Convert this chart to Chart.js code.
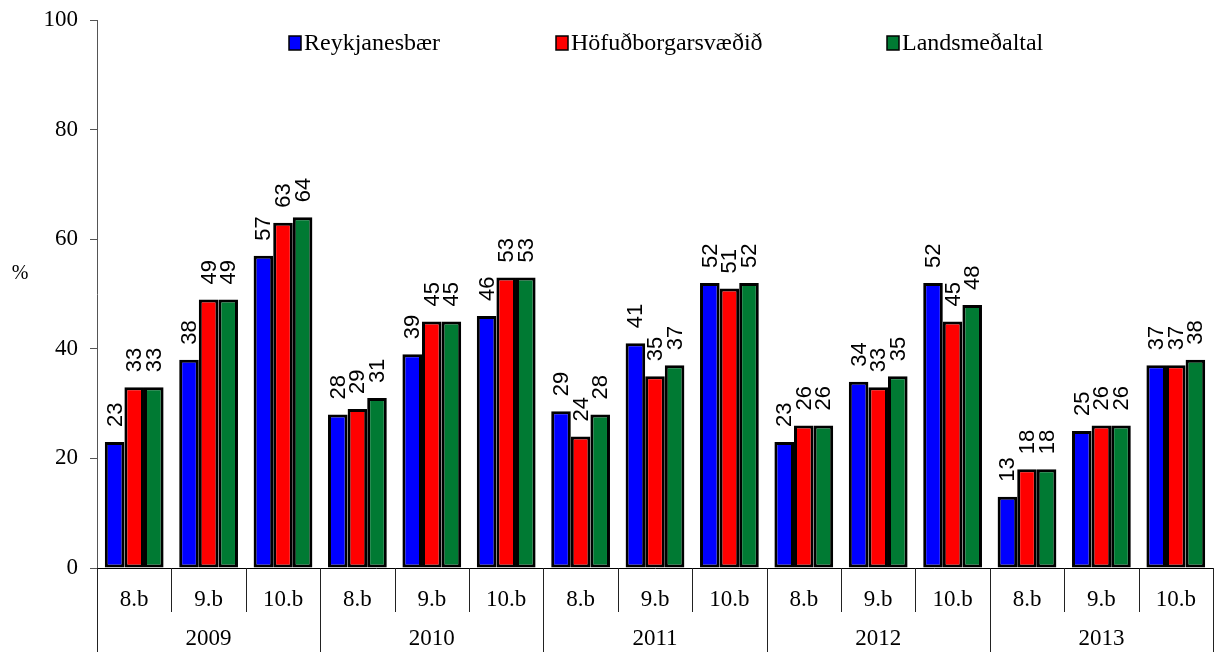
<!DOCTYPE html>
<html>
<head>
<meta charset="utf-8">
<script src="https://cdn.jsdelivr.net/npm/chart.js@4"></script>
<style>
  html, body { margin: 0; padding: 0; background: #fff; }
  #wrap { width: 1216px; height: 652px; }
</style>
</head>
<body>
<div id="wrap"><canvas id="chart" width="1216" height="652"></canvas></div>
<script>
// grade labels under each group, year labels below them
var grades = ['8.b', '9.b', '10.b', '8.b', '9.b', '10.b', '8.b', '9.b', '10.b', '8.b', '9.b', '10.b', '8.b', '9.b', '10.b'];
var years = ['2009', '2010', '2011', '2012', '2013'];

var reykjanesbaer = [23, 38, 57, 28, 39, 46, 28.6, 41, 52, 23, 34, 52, 13, 25, 37];
var hofudborg = [33, 49, 63, 29, 45, 53, 24, 35, 51, 26, 33, 45, 18, 26, 37];
var landsmedaltal = [33, 49, 64, 31, 45, 53, 28, 37, 52, 26, 35, 48, 18, 26, 38];

var yTicks = [0, 20, 40, 60, 80, 100];

var SERIF = '"Liberation Serif", "Times New Roman", serif';
var SANS = '"Liberation Sans", Arial, sans-serif';

// value labels, rotated, above each bar
var barLabels = {
    id: 'barLabels',
    afterDatasetsDraw: function (chart) {
        var ctx = chart.ctx;
        ctx.save();
        ctx.font = '22px ' + SANS;
        ctx.fillStyle = '#000';
        chart.data.datasets.forEach(function (ds, di) {
            var meta = chart.getDatasetMeta(di);
            meta.data.forEach(function (bar, i) {
                ctx.save();
                ctx.translate(bar.x, bar.y - 15);
                ctx.rotate(-Math.PI / 2);
                ctx.textAlign = 'left';
                ctx.textBaseline = 'middle';
                ctx.fillText(String(Math.round(ds.data[i])), 0, 1);
                ctx.restore();
            });
        });
        ctx.restore();
    }
};

// category dividers, year row, legend and "%" label
var decorations = {
    id: 'decorations',
    afterDraw: function (chart) {
        var ctx = chart.ctx;
        var x = chart.scales.x;
        var area = chart.chartArea;
        var step = x.getPixelForValue(1) - x.getPixelForValue(0);
        ctx.save();
        ctx.strokeStyle = '#222';
        ctx.lineWidth = 1;
        for (var i = 0; i <= grades.length; i++) {
            var px = Math.round(x.getPixelForValue(i) - step / 2) + 0.5;
            var full = (i % 3 === 0);
            ctx.beginPath();
            ctx.moveTo(px, area.bottom);
            ctx.lineTo(px, full ? chart.height : area.bottom + 44);
            ctx.stroke();
        }
        ctx.fillStyle = '#000';
        ctx.font = '23px ' + SERIF;
        ctx.textAlign = 'center';
        ctx.textBaseline = 'middle';
        years.forEach(function (y, k) {
            var cx = x.getPixelForValue(3 * k + 1);
            ctx.fillText(y, cx, area.bottom + 71);
        });

        // % label
        ctx.font = '20px ' + SERIF;
        ctx.fillText('%', 20, 274);

        // legend
        var legendX = [289, 556, 887];
        ctx.font = '24px ' + SERIF;
        ctx.textAlign = 'left';
        chart.data.datasets.forEach(function (ds, di) {
            var lx = legendX[di];
            ctx.fillStyle = ds.backgroundColor;
            ctx.fillRect(lx, 36, 12, 14);
            ctx.strokeStyle = '#000';
            ctx.lineWidth = 1.5;
            ctx.strokeRect(lx, 36, 12, 14);
            ctx.fillStyle = '#000';
            ctx.fillText(ds.label, lx + 15, 44);
        });
        ctx.restore();
    }
};

var ctx = document.getElementById('chart');
new Chart(ctx, {
    type: 'bar',
    data: {
        labels: grades,
        datasets: [
            { label: 'Reykjanesbær', data: reykjanesbaer, backgroundColor: '#0000FF' },
            { label: 'Höfuðborgarsvæðið', data: hofudborg, backgroundColor: '#FF0000' },
            { label: 'Landsmeðaltal', data: landsmedaltal, backgroundColor: '#007A33' }
        ]
    },
    options: {
        responsive: false,
        animation: false,
        devicePixelRatio: 1,
        layout: { padding: { top: 20, right: 3, left: 0, bottom: 0 } },
        datasets: {
            bar: {
                borderColor: '#000',
                borderWidth: 3,
                borderSkipped: false,
                barPercentage: 1,
                categoryPercentage: 0.79
            }
        },
        plugins: {
            legend: { display: false },
            tooltip: { enabled: false }
        },
        scales: {
            x: {
                grid: { display: false, drawTicks: false },
                border: { color: '#000', width: 1 },
                ticks: {
                    color: '#000',
                    font: { family: SERIF, size: 23 },
                    padding: 18,
                    maxRotation: 0,
                    autoSkip: false
                },
                afterFit: function (scale) {
                    scale.height = 84;
                    scale.paddingLeft = 0;
                    scale.paddingRight = 0;
                }
            },
            y: {
                min: 0,
                max: 100,
                afterBuildTicks: function (scale) {
                    scale.ticks = yTicks.map(function (v) { return { value: v }; });
                },
                grid: { drawOnChartArea: false, tickLength: 7, color: '#555' },
                border: { color: '#555', width: 1 },
                ticks: {
                    color: '#000',
                    font: { family: SERIF, size: 23 },
                    padding: 12
                },
                afterFit: function (scale) {
                    scale.width = 97;
                    scale.paddingTop = 0;
                    scale.paddingBottom = 0;
                }
            }
        }
    },
    plugins: [barLabels, decorations]
});
</script>
</body>
</html>
